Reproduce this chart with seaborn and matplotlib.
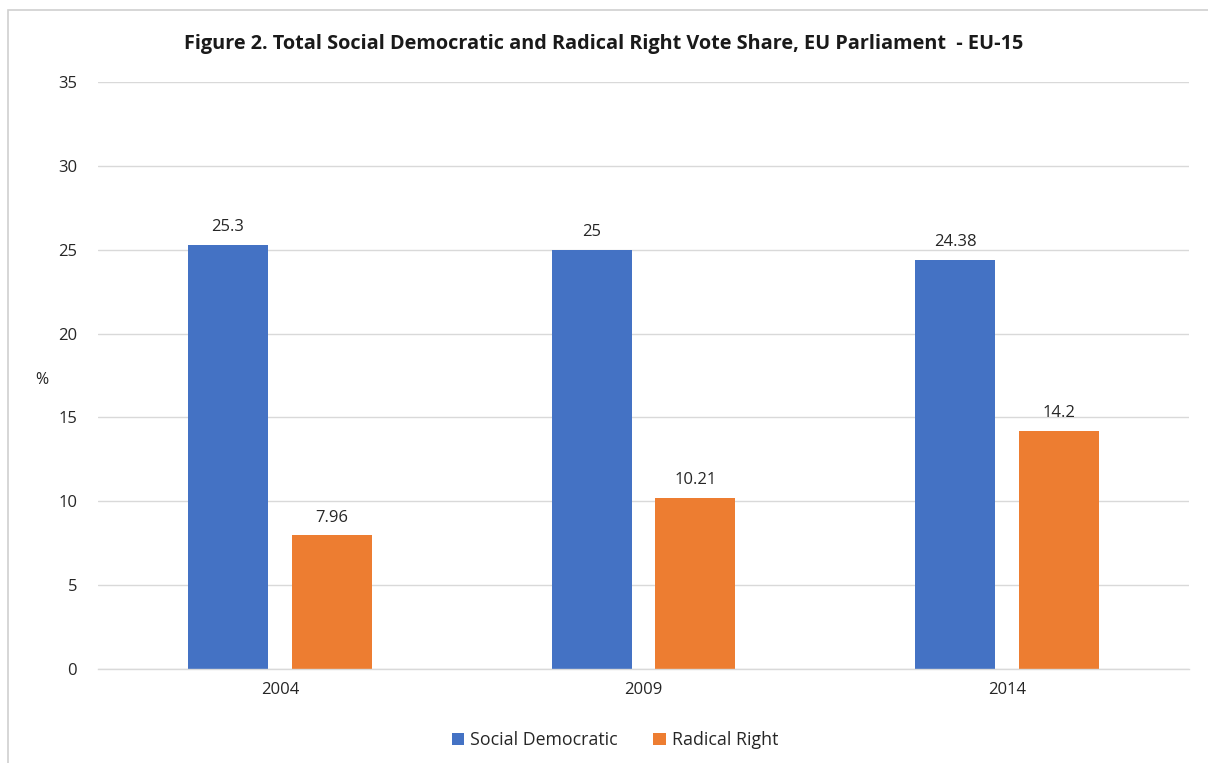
import matplotlib
matplotlib.use("Agg")
import matplotlib.pyplot as plt
import seaborn as sns
import pandas as pd
from matplotlib.patches import Rectangle, Patch

years = ["2004", "2009", "2014"]
series_names = ["Social Democratic", "Radical Right"]
social_democratic = [25.3, 25.0, 24.38]
radical_right = [7.96, 10.21, 14.2]
value_labels_sd = ["25.3", "25", "24.38"]
value_labels_rr = ["7.96", "10.21", "14.2"]
yticks = [0, 5, 10, 15, 20, 25, 30, 35]

df = pd.DataFrame({
    "year": years * 2,
    "series": [series_names[0]] * 3 + [series_names[1]] * 3,
    "value": social_democratic + radical_right,
})

sns.set_theme(style="white")
plt.rcParams['font.family'] = ['Open Sans', 'DejaVu Sans']

fig = plt.figure(figsize=(12.08, 7.63), dpi=100)
ax = fig.add_axes([98/1208, 1-669/763, (1189-98)/1208, (669-82)/763])

palette = {series_names[0]: "#4472C4", series_names[1]: "#ED7D31"}
sns.barplot(data=df, x="year", y="value", hue="series", palette=palette,
            order=years, hue_order=series_names, width=0.57, gap=0.23,
            saturation=1, ax=ax, legend=False, linewidth=0)

labels = [value_labels_sd, value_labels_rr]
for cont, labs in zip(ax.containers, labels):
    ax.bar_label(cont, labels=labs, padding=7, fontsize=12, color="#262626")

ax.set_ylim(0, 35)
ax.set_xlim(-0.5, 2.5)
ax.set_yticks(yticks)
ax.set_yticklabels([str(t) for t in yticks])
ax.yaxis.grid(True, color="#D9D9D9", linewidth=1)
ax.set_axisbelow(True)
for s in ["left", "right", "top"]:
    ax.spines[s].set_visible(False)
ax.spines["bottom"].set_color("#D9D9D9")
ax.spines["bottom"].set_linewidth(1)
ax.tick_params(axis="both", length=0, labelsize=12, labelcolor="#262626")
ax.tick_params(axis="y", pad=15)
ax.tick_params(axis="x", pad=9)
ax.set_xlabel("")
ax.set_ylabel("")
fig.text(42/1208, 1-380/763, "%", fontsize=11.5, color="#262626", ha="center", va="center")

fig.text(604/1208, 1-44/763,
         "Figure 2. Total Social Democratic and Radical Right Vote Share, EU Parliament  - EU-15",
         fontsize=14.3, fontweight="bold", color="#1a1a1a", ha="center", va="center")

handles = [Patch(facecolor=palette[n], edgecolor="none") for n in series_names]
fig.legend(handles, series_names, loc="center", bbox_to_anchor=(615/1208, 1-740/763),
           ncol=2, frameon=False, fontsize=12.8, handlelength=0.7, handleheight=0.7,
           handletextpad=0.35, columnspacing=2.0, labelcolor="#262626")

fig.patches.append(Rectangle((8/1208, -0.1), 1.2, 1-10/763 + 0.1, transform=fig.transFigure,
                             fill=False, edgecolor="#D0D0D0", linewidth=1.2))

fig.savefig("out.png", dpi=100)
